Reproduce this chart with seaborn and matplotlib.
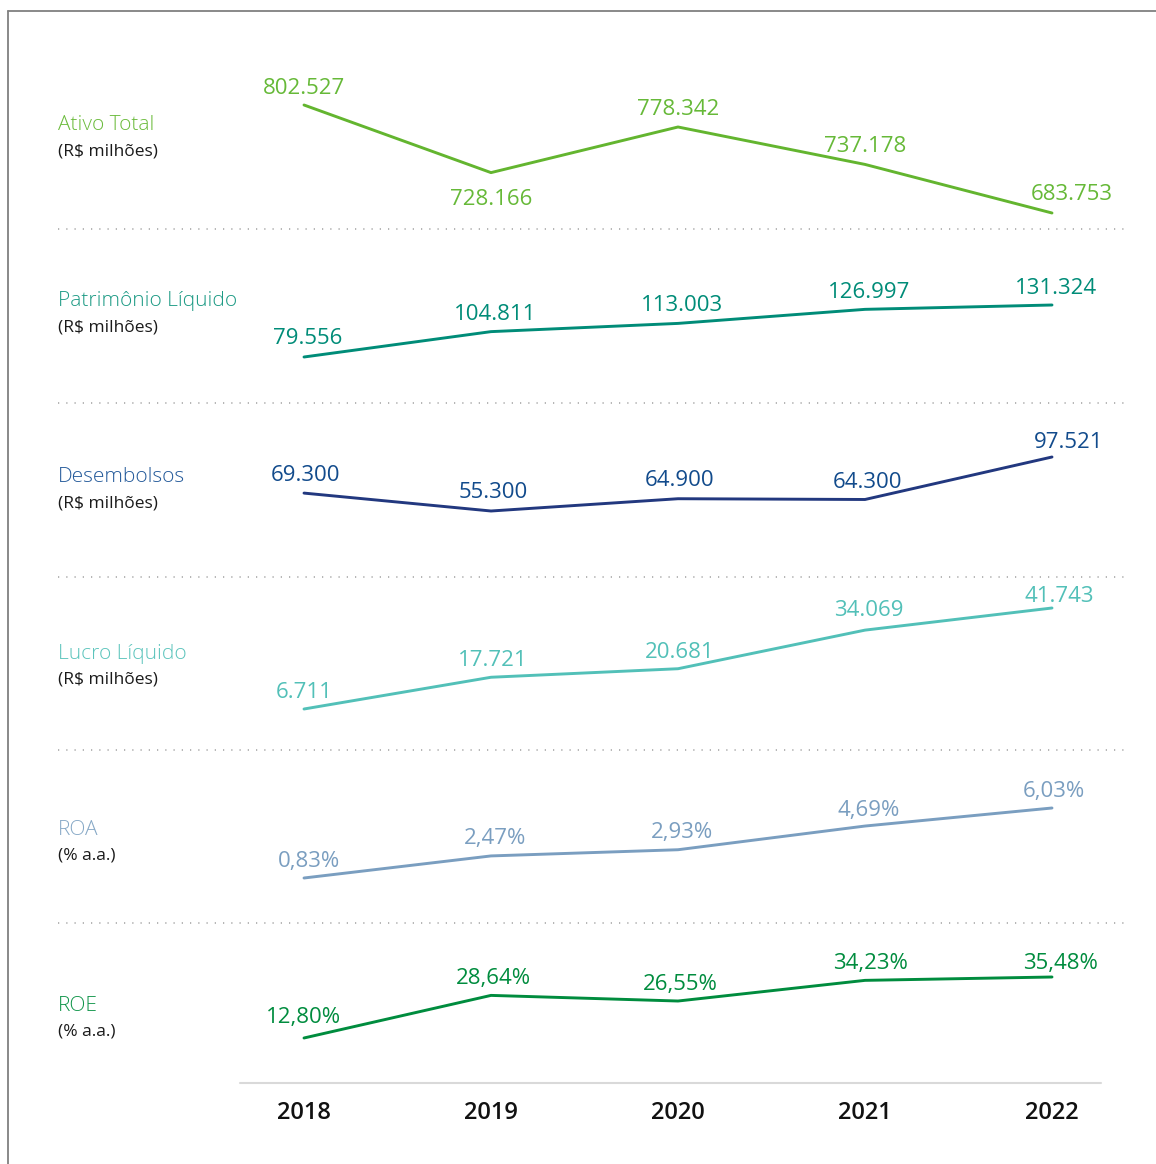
import matplotlib
matplotlib.use("Agg")
import matplotlib.pyplot as plt
import seaborn as sns
import pandas as pd
from matplotlib.lines import Line2D

# ---------------- data ----------------
years = [2018, 2019, 2020, 2021, 2022]
titles = ["Ativo Total", "Patrimônio Líquido", "Desembolsos", "Lucro Líquido", "ROA", "ROE"]
subtitles = ["(R$ milhões)", "(R$ milhões)", "(R$ milhões)", "(R$ milhões)", "(% a.a.)", "(% a.a.)"]
ativo_total = [802.527, 728.166, 778.342, 737.178, 683.753]
patrimonio = [79.556, 104.811, 113.003, 126.997, 131.324]
desembolsos = [69.300, 55.300, 64.900, 64.300, 97.521]
lucro = [6.711, 17.721, 20.681, 34.069, 41.743]
roa = [0.83, 2.47, 2.93, 4.69, 6.03]
roe = [12.80, 28.64, 26.55, 34.23, 35.48]
labels_ativo = ["802.527", "728.166", "778.342", "737.178", "683.753"]
labels_patrimonio = ["79.556", "104.811", "113.003", "126.997", "131.324"]
labels_desembolsos = ["69.300", "55.300", "64.900", "64.300", "97.521"]
labels_lucro = ["6.711", "17.721", "20.681", "34.069", "41.743"]
labels_roa = ["0,83%", "2,47%", "2,93%", "4,69%", "6,03%"]
labels_roe = ["12,80%", "28,64%", "26,55%", "34,23%", "35,48%"]

series = [ativo_total, patrimonio, desembolsos, lucro, roa, roe]
labels = [labels_ativo, labels_patrimonio, labels_desembolsos, labels_lucro, labels_roa, labels_roe]

# ---------------- style ----------------
line_colors = ["#63b52f", "#008c78", "#22387f", "#52c0b8", "#7a9ec0", "#008c3e"]
text_colors = ["#66b938", "#008c78", "#124b8c", "#52c0b8", "#7a9ec0", "#008c3e"]
title_colors = ["#6bbb3c", "#1c9a84", "#245a9a", "#5cc4bc", "#86a8c6", "#10954a"]

sns.set_theme(style="white")
plt.rcParams["font.family"] = ["Open Sans", "DejaVu Sans"]

W, H = 1156, 1164
fig = plt.figure(figsize=(W / 100, H / 100), dpi=100)

# panel layout in pixels: (top, bottom, y of max value, y of min value)
panels = [(11, 229, 105, 213), (229, 403, 305, 357), (403, 577, 457, 511),
          (577, 750, 608, 709), (750, 923, 808, 878), (923, 1083, 977, 1038)]
title_y = [125, 301, 477, 654, 830, 1006]
x_left_px, x_right_px = 240, 1101
x_first_px, x_last_px = 304, 1052
ppu = (x_last_px - x_first_px) / (years[-1] - years[0])
xlim = (years[0] - (x_first_px - x_left_px) / ppu, years[-1] + (x_right_px - x_last_px) / ppu)

# label placement: (dx px, dy px upward)
offsets = [
    [(0, 17), (0, -27), (0, 17), (0, 18), (20, 19)],
    [(4, 18), (4, 17), (4, 18), (4, 17), (4, 17)],
    [(2, 18), (2, 18), (2, 18), (2, 17), (17, 14)],
    [(0, 17), (2, 17), (2, 16), (4, 20), (7, 12)],
    [(5, 17), (4, 17), (4, 17), (4, 16), (2, 16)],
    [(0, 20), (2, 17), (2, 17), (6, 17), (8, 14)],
]

for i, (vals, labs) in enumerate(zip(series, labels)):
    top, bot, ymax_px, ymin_px = panels[i]
    ax = fig.add_axes([x_left_px / W, 1 - bot / H, (x_right_px - x_left_px) / W, (bot - top) / H])
    df = pd.DataFrame({"year": years, "value": vals})
    sns.lineplot(data=df, x="year", y="value", ax=ax, color=line_colors[i], linewidth=2.1)
    vmax, vmin = max(vals), min(vals)
    s = (ymin_px - ymax_px) / (vmax - vmin)
    ax.set_ylim(vmin - (bot - ymin_px) / s, vmax + (ymax_px - top) / s)
    ax.set_xlim(*xlim)
    ax.axis("off")
    for j, (x, v, lab) in enumerate(zip(years, vals, labs)):
        dx, dy = offsets[i][j]
        ax.annotate(lab, (x, v), xytext=(dx, dy), textcoords="offset pixels",
                    ha="center", va="center", fontsize=16, color=text_colors[i],
                    annotation_clip=False)
    fig.text(58 / W, 1 - title_y[i] / H, titles[i], ha="left", va="center",
             fontsize=15, color=title_colors[i], fontweight="light")
    fig.text(58 / W, 1 - (title_y[i] + 26) / H, subtitles[i], ha="left", va="center",
             fontsize=12.5, color="#1a1a1a")

# dotted separators
for top, bot, _, _ in panels[:-1]:
    fig.add_artist(Line2D([58 / W, 1128 / W], [1 - bot / H, 1 - bot / H], color="#a0a0a0",
                          linewidth=1.1, linestyle=(0, (0.8, 4.6)), transform=fig.transFigure))

# bottom axis line and year labels
fig.add_artist(Line2D([x_left_px / W, x_right_px / W], [1 - 1083 / H, 1 - 1083 / H],
                      color="#d9d9d9", linewidth=1.5, transform=fig.transFigure))
for k, yr in enumerate(years):
    xp = x_first_px + (yr - years[0]) * ppu
    fig.text(xp / W, 1 - 1113 / H, str(yr), ha="center", va="center", fontsize=17,
             color="#111111", fontweight="semibold")

# frame border (top and left)
fig.add_artist(Line2D([8 / W, 1.0], [1 - 11 / H, 1 - 11 / H], color="#808080", linewidth=1.3,
                      transform=fig.transFigure))
fig.add_artist(Line2D([8 / W, 8 / W], [1 - 11 / H, 0], color="#808080", linewidth=1.3,
                      transform=fig.transFigure))

fig.savefig("out.png", dpi=100, facecolor="white")
